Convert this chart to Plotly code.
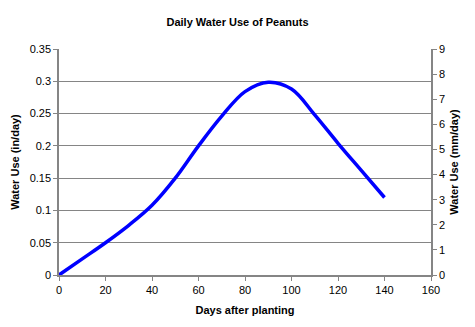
import plotly.graph_objects as go

days = [0, 10, 20, 30, 40, 50, 60, 70, 80, 90, 100, 110, 120, 130, 140]
water_in = [0.0, 0.025, 0.05, 0.077, 0.108, 0.15, 0.2, 0.246, 0.284, 0.2985, 0.288, 0.248, 0.204, 0.162, 0.12]
mm_per_in = 25.4
water_mm = [v * mm_per_in for v in water_in]

x_ticks = list(range(0, 161, 20))
y_ticks = [0, 0.05, 0.1, 0.15, 0.2, 0.25, 0.3, 0.35]
y2_ticks = list(range(0, 10))

font = "Liberation Sans, Arial, sans-serif"
grid = "#858585"

fig = go.Figure()
fig.add_trace(go.Scatter(x=days, y=water_in, mode="lines",
                         line=dict(color="#0000ff", width=3.5, shape="spline", smoothing=1.0),
                         showlegend=False, hoverinfo="skip"))
fig.add_trace(go.Scatter(x=days, y=water_mm, yaxis="y2", mode="lines",
                         line=dict(color="rgba(0,0,0,0)", width=0),
                         showlegend=False, hoverinfo="skip"))

fig.update_layout(
    width=475, height=327,
    margin=dict(l=59, r=44, t=49, b=52),
    paper_bgcolor="white", plot_bgcolor="white",
    font=dict(family=font, color="black", size=11),
    title=dict(text="<b>Daily Water Use of Peanuts</b>", x=0.5, xanchor="center",
               y=1 - 22 / 327, yanchor="middle", font=dict(size=11)),
    xaxis=dict(range=[0, 160], tickvals=x_ticks, ticks="outside", ticklen=4,
               tickcolor=grid, showline=True, linecolor=grid, linewidth=1.5,
               showgrid=False, zeroline=False, tickfont=dict(size=11),
               title=dict(text="<b>Days after planting</b>", font=dict(size=11), standoff=11)),
    yaxis=dict(range=[0, 0.35], tickvals=y_ticks, ticktext=[f"{v:g}" for v in y_ticks],
               ticks="outside", ticklen=4, tickcolor=grid, showline=True,
               linecolor=grid, linewidth=1.5, showgrid=True, gridcolor=grid, gridwidth=1,
               zeroline=False, tickfont=dict(size=11),
               title=dict(text="<b>Water Use (in/day)</b>", font=dict(size=11), standoff=8)),
    yaxis2=dict(range=[0, 9], tickvals=y2_ticks, overlaying="y", side="right",
                ticks="outside", ticklen=4, tickcolor=grid, showline=True,
                linecolor=grid, linewidth=1.5, showgrid=False, zeroline=False,
                tickfont=dict(size=11),
                title=dict(text="<b>Water Use (mm/day)</b>", font=dict(size=11), standoff=6)),
)

fig.write_html("out.html")
